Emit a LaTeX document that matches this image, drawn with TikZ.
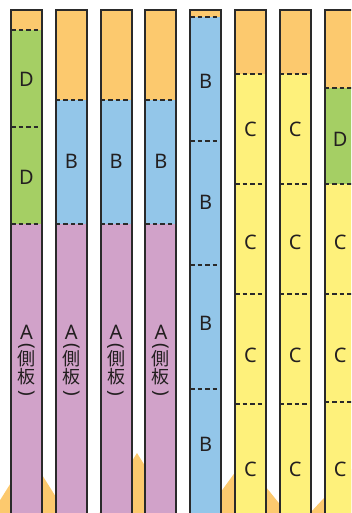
\documentclass[tikz,border=0pt]{standalone}
\usepackage{fontspec}
\setmainfont{Noto Sans}
\newfontfamily\jpfont{Noto Sans CJK JP}
\usetikzlibrary{positioning}

\definecolor{woodorange}{HTML}{FCC96E}
\definecolor{woodgreen}{HTML}{A5CF64}
\definecolor{woodblue}{HTML}{93C6E9}
\definecolor{woodpink}{HTML}{D1A2C9}
\definecolor{woodyellow}{HTML}{FEF17B}
\definecolor{edgegray}{HTML}{2A2A2A}
\definecolor{inkgray}{HTML}{231F20}

\begin{document}
\begin{tikzpicture}[
    x=1pt, y=-1pt,
    piece/.style={fill=#1},
    cutline/.style={draw=edgegray, line width=1.6pt, dash pattern=on 4.5pt off 3pt},
    board/.style={draw=edgegray, line width=2pt},
    partlbl/.style={font=\fontsize{20}{20}\selectfont, text=inkgray, inner sep=0pt},
    sidelbl/.style={font=\fontsize{18}{18}\selectfont\jpfont, text=inkgray, inner sep=0pt},
    parenlbl/.style={font=\fontsize{19}{19}\selectfont, text=inkgray, inner sep=0pt, rotate=-90},
]
\useasboundingbox (0,0) rectangle (351,513);
\clip (0,0) rectangle (351,513);

% offcut peaks behind the boards
\fill[woodorange] (-8,513) -- (29,454) -- (66,513) -- cycle;
\fill[woodorange] (99.5,513) -- (137,453) -- (174.5,513) -- cycle;
\fill[woodorange] (205.5,513) -- (244,460) -- (287,513) -- cycle;
\fill[woodorange] (310,513) -- (352,468) -- (395,513) -- cycle;

% board 1
\fill[piece=woodorange] (11,10) rectangle (42,30);
\fill[piece=woodgreen] (11,30) rectangle (42,224);
\fill[piece=woodpink] (11,224) rectangle (42,530);
\draw[cutline] (11,30) -- (42,30);
\draw[cutline] (11,127) -- (42,127);
\draw[cutline] (11,224) -- (42,224);
\draw[board] (11,10) rectangle (42,530);

% boards 2-4
\fill[piece=woodorange] (55.8,10) rectangle (86.8,100);
\fill[piece=woodblue] (55.8,100) rectangle (86.8,224);
\fill[piece=woodpink] (55.8,224) rectangle (86.8,530);
\draw[cutline] (55.8,100) -- (86.8,100);
\draw[cutline] (55.8,224) -- (86.8,224);
\draw[board] (55.8,10) rectangle (86.8,530);

\fill[piece=woodorange] (100.6,10) rectangle (131.6,100);
\fill[piece=woodblue] (100.6,100) rectangle (131.6,224);
\fill[piece=woodpink] (100.6,224) rectangle (131.6,530);
\draw[cutline] (100.6,100) -- (131.6,100);
\draw[cutline] (100.6,224) -- (131.6,224);
\draw[board] (100.6,10) rectangle (131.6,530);

\fill[piece=woodorange] (145.4,10) rectangle (176.4,100);
\fill[piece=woodblue] (145.4,100) rectangle (176.4,224);
\fill[piece=woodpink] (145.4,224) rectangle (176.4,530);
\draw[cutline] (145.4,100) -- (176.4,100);
\draw[cutline] (145.4,224) -- (176.4,224);
\draw[board] (145.4,10) rectangle (176.4,530);

% board 5
\fill[piece=woodorange] (190.2,10) rectangle (221.2,17);
\fill[piece=woodblue] (190.2,17) rectangle (221.2,530);
\draw[cutline] (190.2,17) -- (221.2,17);
\draw[cutline] (190.2,141) -- (221.2,141);
\draw[cutline] (190.2,265) -- (221.2,265);
\draw[cutline] (190.2,389) -- (221.2,389);
\draw[board] (190.2,10) rectangle (221.2,530);

% boards 6-7
\fill[piece=woodorange] (235,10) rectangle (266,74);
\fill[piece=woodyellow] (235,74) rectangle (266,530);
\draw[cutline] (235,74) -- (266,74);
\draw[cutline] (235,184) -- (266,184);
\draw[cutline] (235,294) -- (266,294);
\draw[cutline] (235,404) -- (266,404);
\draw[board] (235,10) rectangle (266,530);

\fill[piece=woodorange] (279.8,10) rectangle (310.8,74);
\fill[piece=woodyellow] (279.8,74) rectangle (310.8,530);
\draw[cutline] (279.8,74) -- (310.8,74);
\draw[cutline] (279.8,184) -- (310.8,184);
\draw[cutline] (279.8,294) -- (310.8,294);
\draw[cutline] (279.8,404) -- (310.8,404);
\draw[board] (279.8,10) rectangle (310.8,530);

% board 8
\fill[piece=woodorange] (324.6,10) rectangle (355.6,88);
\fill[piece=woodgreen] (324.6,88) rectangle (355.6,184);
\fill[piece=woodyellow] (324.6,184) rectangle (355.6,530);
\draw[cutline] (324.6,88) -- (355.6,88);
\draw[cutline] (324.6,184) -- (355.6,184);
\draw[cutline] (324.6,294) -- (355.6,294);
\draw[cutline] (324.6,402) -- (355.6,402);
\draw[board] (324.6,10) rectangle (355.6,530);

% part labels
\node[partlbl] (d1) at (26.5,79) {D};
\node[partlbl] (d2) at (26.5,177) {D};
\node[partlbl] (b1) at (71.3,161) {B};
\node[partlbl] (b2) at (116.1,161) {B};
\node[partlbl] (b3) at (160.9,161) {B};

% side panel labels, set vertically
\foreach \x [count=\i] in {26.5,71.3,116.1,160.9} {
  \node[partlbl] (a\i) at (\x,332) {A};
  \node[parenlbl] (open\i) at (\x,346.5) {(};
  \node[sidelbl] (side\i) at (\x,358.5) {側};
  \node[sidelbl] (plate\i) at (\x,376.5) {板};
  \node[parenlbl] (close\i) at (\x,393) {)};
}

\node[partlbl] (b4) at (205.7,81) {B};
\node[partlbl] (b5) at (205.7,202) {B};
\node[partlbl] (b6) at (205.7,323) {B};
\node[partlbl] (b7) at (205.7,444) {B};

\node[partlbl] (c1) at (250.5,129) {C};
\node[partlbl] (c2) at (250.5,242) {C};
\node[partlbl] (c3) at (250.5,355) {C};
\node[partlbl] (c4) at (250.5,469) {C};
\node[partlbl] (c5) at (295.3,129) {C};
\node[partlbl] (c6) at (295.3,242) {C};
\node[partlbl] (c7) at (295.3,355) {C};
\node[partlbl] (c8) at (295.3,469) {C};

\node[partlbl] (d3) at (340.1,139) {D};
\node[partlbl] (c9) at (340.1,242) {C};
\node[partlbl] (c10) at (340.1,355) {C};
\node[partlbl] (c11) at (340.1,469) {C};
\end{tikzpicture}
\end{document}
